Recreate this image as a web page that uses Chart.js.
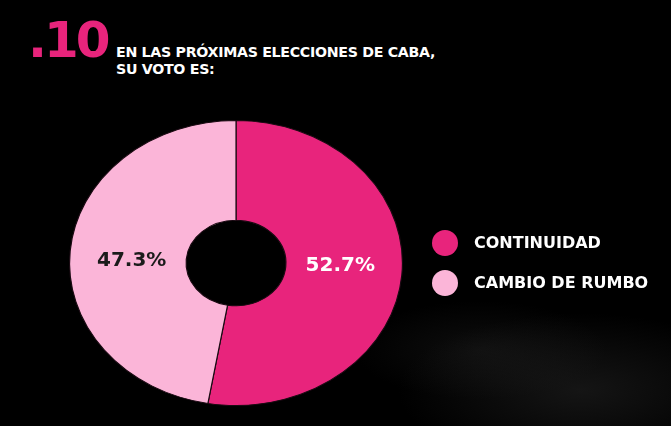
<!DOCTYPE html>
<html lang="es">
<head>
<meta charset="utf-8">
<script src="https://cdn.jsdelivr.net/npm/chart.js@4.4.1/dist/chart.umd.min.js"></script>
<style>
    html, body {
        margin: 0;
        padding: 0;
        width: 671px;
        height: 426px;
        overflow: hidden;
        background: #000;
    }
    #wrap {
        position: relative;
        width: 671px;
        height: 426px;
        background:
            radial-gradient(ellipse 260px 110px at 580px 390px, rgba(60,60,60,0.35), rgba(0,0,0,0) 70%),
            radial-gradient(ellipse 180px 70px at 480px 350px, rgba(45,45,45,0.3), rgba(0,0,0,0) 70%),
            #000;
        font-family: "DejaVu Sans", sans-serif;
    }
    #num {
        position: absolute;
        left: 28px;
        top: 10px;
        color: #e8247c;
        font-weight: bold;
        font-size: 50px;
        letter-spacing: -3px;
        line-height: 60px;
    }
    #pregunta {
        position: absolute;
        left: 116px;
        top: 44px;
        color: #fff;
        font-weight: bold;
        font-size: 14.2px;
        line-height: 17px;
        letter-spacing: -0.3px;
    }
    canvas {
        position: absolute;
        left: 0;
        top: 0;
    }
</style>
</head>
<body>
<div id="wrap">
    <div id="num">.10</div>
    <div id="pregunta">EN LAS PRÓXIMAS ELECCIONES DE CABA,<br>SU VOTO ES:</div>
    <canvas id="grafico" width="671" height="426"></canvas>
</div>
<script>
// Datos
const categorias = ['CONTINUIDAD', 'CAMBIO DE RUMBO'];
const valores = [52.7, 47.3];
const colores = ['#e8247c', '#fbb5d8'];
const coloresTexto = ['#ffffff', '#1b1b1b'];

// Estiramiento horizontal del anillo (el original es una elipse)
const ESTIRAR_X = 1.168;

const elipsePlugin = {
    id: 'elipse',
    beforeDatasetsDraw(chart) {
        const arc = chart.getDatasetMeta(0).data[0];
        const ctx = chart.ctx;
        ctx.save();
        ctx.translate(arc.x, arc.y);
        ctx.scale(ESTIRAR_X, 1);
        ctx.translate(-arc.x, -arc.y);
    },
    afterDatasetsDraw(chart) {
        chart.ctx.restore();
    }
};

const etiquetasPlugin = {
    id: 'etiquetas',
    afterDraw(chart) {
        const ctx = chart.ctx;
        const meta = chart.getDatasetMeta(0);
        ctx.save();
        ctx.font = 'bold 20px "DejaVu Sans", sans-serif';
        ctx.textAlign = 'center';
        ctx.textBaseline = 'middle';
        meta.data.forEach((arc, i) => {
            const p = arc.getProps(['x', 'y', 'startAngle', 'endAngle', 'innerRadius', 'outerRadius']);
            const medio = (p.startAngle + p.endAngle) / 2;
            const r = p.innerRadius + (p.outerRadius - p.innerRadius) * 0.47;
            const x = p.x + Math.cos(medio) * r * ESTIRAR_X;
            const y = p.y + Math.sin(medio) * r * 0.35;
            ctx.fillStyle = coloresTexto[i];
            ctx.fillText(valores[i].toFixed(1) + '%', x, y);
        });
        ctx.restore();
    }
};

const leyendaPlugin = {
    id: 'leyendaPropia',
    afterDraw(chart) {
        const ctx = chart.ctx;
        const ds = chart.data.datasets[0];
        ctx.save();
        ctx.font = 'bold 16px "DejaVu Sans", sans-serif';
        ctx.textBaseline = 'middle';
        chart.data.labels.forEach((label, i) => {
            const y = 243 + i * 40;
            ctx.beginPath();
            ctx.arc(445, y, 13, 0, Math.PI * 2);
            ctx.fillStyle = ds.backgroundColor[i];
            ctx.fill();
            ctx.fillStyle = '#ffffff';
            ctx.fillText(label, 474, y + 1);
        });
        ctx.restore();
    }
};

new Chart(document.getElementById('grafico'), {
    type: 'doughnut',
    data: {
        labels: categorias,
        datasets: [{
            data: valores,
            backgroundColor: colores,
            borderColor: '#1a0a12',
            borderWidth: 1
        }]
    },
    options: {
        responsive: false,
        animation: false,
        cutout: '30%',
        layout: {
            padding: { left: 93, right: 292, top: 120, bottom: 20 }
        },
        plugins: {
            legend: { display: false },
            tooltip: { enabled: false }
        }
    },
    plugins: [elipsePlugin, etiquetasPlugin, leyendaPlugin]
});
</script>
</body>
</html>
